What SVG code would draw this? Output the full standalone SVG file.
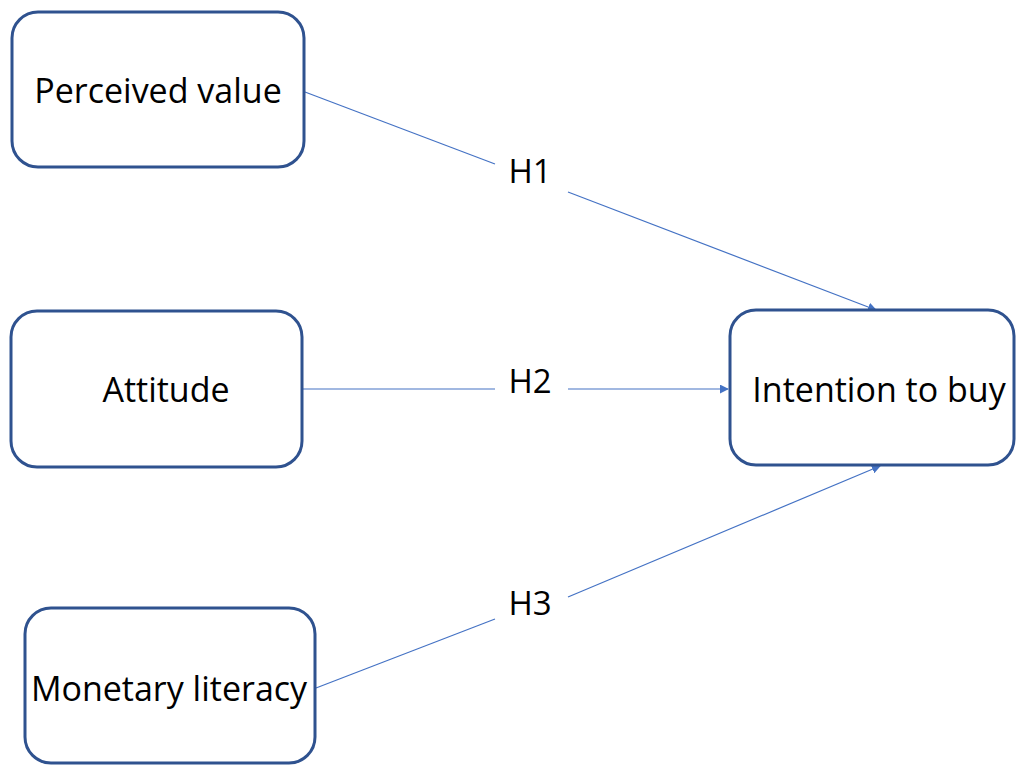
<svg xmlns="http://www.w3.org/2000/svg" width="1016" height="765" viewBox="0 0 1016 765">
<defs>
<marker id="arr" viewBox="0 0 10 10" refX="9" refY="5" markerWidth="9" markerHeight="9" markerUnits="userSpaceOnUse" orient="auto">
<path d="M0,0 L10,5 L0,10 z" fill="#4472C4"/>
</marker>
</defs>
<style>
.box{fill:#fff;stroke:#2F528F;stroke-width:3}
.lbl{font-family:"Open Sans","Liberation Sans",sans-serif;font-size:34px;fill:#000;text-anchor:middle}
.hl{font-family:"Open Sans","Liberation Sans",sans-serif;font-size:33px;fill:#000;text-anchor:middle}
.con{stroke:#4472C4;stroke-width:1.2;fill:none}
</style>
<rect width="1016" height="765" fill="#fff"/>
<g id="connectors">
<line class="con" x1="305" y1="92" x2="495" y2="164"/>
<line class="con" x1="568" y1="192" x2="876" y2="310" marker-end="url(#arr)"/>
<line class="con" x1="302" y1="389" x2="495" y2="389"/>
<line class="con" x1="568" y1="389" x2="728" y2="389" marker-end="url(#arr)"/>
<line class="con" x1="316" y1="688" x2="495" y2="619"/>
<line class="con" x1="568" y1="597" x2="880" y2="466" marker-end="url(#arr)"/>
<text class="hl" x="530" y="183">H1</text>
<text class="hl" x="530" y="393">H2</text>
<text class="hl" x="530" y="615">H3</text>
</g>
<g id="perceived-value">
<rect class="box" x="12" y="12" width="292" height="155" rx="26"/>
<text class="lbl" x="158" y="103">Perceived value</text>
</g>
<g id="attitude">
<rect class="box" x="11" y="311" width="291" height="156" rx="26"/>
<text class="lbl" x="166" y="402">Attitude</text>
</g>
<g id="monetary-literacy">
<rect class="box" x="25" y="608" width="290" height="155" rx="26"/>
<text class="lbl" x="169" y="701">Monetary literacy</text>
</g>
<g id="intention-to-buy">
<rect class="box" x="730" y="310" width="284" height="155" rx="26"/>
<text class="lbl" x="879" y="402">Intention to buy</text>
</g>
</svg>
